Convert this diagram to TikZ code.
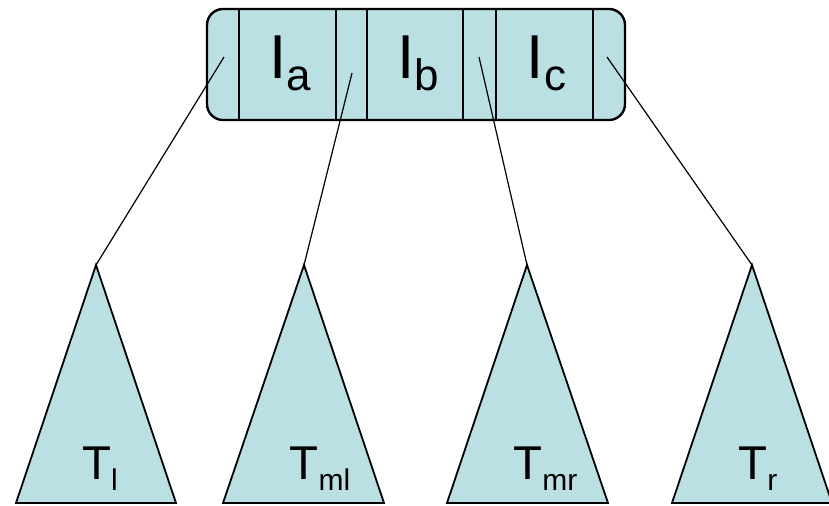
\documentclass[tikz,border=0pt]{standalone}
\usepackage{fontspec}
\setmainfont{Liberation Sans}
\usepackage{tikz}
\definecolor{nodeblue}{RGB}{186,224,227}
\tikzstyle{keybox} = [rectangle, rounded corners=8pt, draw=black, line width=1.2pt, fill=nodeblue, minimum width=209pt, minimum height=55.5pt, inner sep=0pt]
\tikzstyle{divider} = [line width=1.3pt]
\tikzstyle{subtree} = [draw=black, line width=0.9pt, fill=nodeblue, line join=miter]
\tikzstyle{pointer} = [line width=0.6pt]
\tikzstyle{keylabel} = [inner sep=0pt, anchor=base, font=\fontsize{31}{31}\selectfont]
\tikzstyle{treelabel} = [inner sep=0pt, anchor=base, font=\fontsize{23.7}{24}\selectfont]
\newcommand{\keysub}[1]{\raisebox{-6pt}{\fontsize{22}{22}\selectfont #1}}
\newcommand{\treesub}[1]{\raisebox{-5.5pt}{\fontsize{15}{15}\selectfont #1}}

\begin{document}
\begin{tikzpicture}[x=0.5pt, y=-0.5pt]
\useasboundingbox (0,0) rectangle (829,505);

% Internal node with three keys
\node (keys) [keybox] at (416,64.5) {};
\draw [divider] (239,9) -- (239,120);
\draw [divider] (336,9) -- (336,120);
\draw [divider] (367,9) -- (367,120);
\draw [divider] (463,9) -- (463,120);
\draw [divider] (496,9) -- (496,120);
\draw [divider] (593,9) -- (593,120);

\node (Ia) [keylabel] at (290.5,78) {I\keysub{a}};
\node (Ib) [keylabel] at (418,78) {I\keysub{b}};
\node (Ic) [keylabel] at (546.5,78) {I\keysub{c}};

% Child pointers and subtree tops
\coordinate (ptrL) at (224,57);
\coordinate (ptrML) at (352,73);
\coordinate (ptrMR) at (479,57);
\coordinate (ptrR) at (607,57);

\coordinate (topL) at (96,265);
\coordinate (topML) at (304,265);
\coordinate (topMR) at (527,265);
\coordinate (topR) at (752,265);

% Subtrees
\filldraw [subtree] (topL) -- (16,503) -- (176,503) -- cycle;
\filldraw [subtree] (topML) -- (223,503) -- (384,503) -- cycle;
\filldraw [subtree] (topMR) -- (447,503) -- (608,503) -- cycle;
\filldraw [subtree] (topR) -- (672,503) -- (832,503) -- cycle;

\node (Tl) [treelabel] at (100,479) {T\treesub{l}};
\node (Tml) [treelabel] at (320,479) {T\treesub{ml}};
\node (Tmr) [treelabel] at (545.5,479) {T\treesub{mr}};
\node (Tr) [treelabel] at (758,479) {T\treesub{r}};

% Pointers
\draw [pointer] (ptrL) -- (topL);
\draw [pointer] (ptrML) -- (topML);
\draw [pointer] (ptrMR) -- (topMR);
\draw [pointer] (ptrR) -- (topR);

\end{tikzpicture}
\end{document}
